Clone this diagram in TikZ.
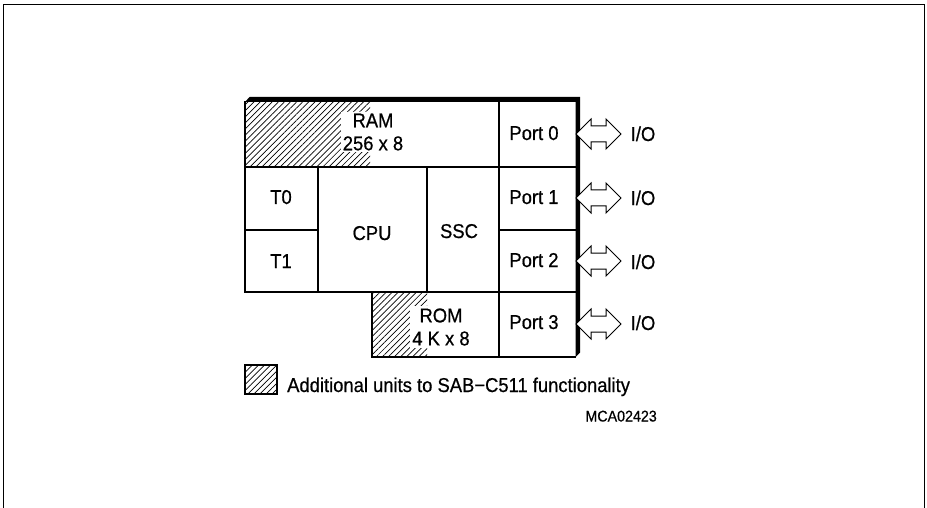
\documentclass[tikz,border=0pt]{standalone}
\usepackage{fontspec}
\setmainfont{Liberation Sans}[FakeStretch=0.92,FakeBold=0.6]
\usetikzlibrary{patterns.meta}
\tikzset{
  frame/.style={line width=1.5pt},
  grid/.style={line width=2.5pt},
  hatch/.style={pattern={Lines[angle=45,distance=4.3pt,line width=0.7pt]}},
  lbl/.style={inner sep=0pt, anchor=base, font=\fontsize{20}{23}\selectfont},
  memlbl/.style={fill=white, inner sep=2pt, align=center, font=\fontsize{20}{23}\selectfont},
  ioarrow/.pic={\draw[line width=1pt, fill=white] (0,0) -- (15,-15) -- (15,-8) -- (30,-8) -- (30,-15) -- (45,0) -- (30,15) -- (30,8) -- (15,8) -- (15,15) -- cycle;}
}
\begin{document}
\begin{tikzpicture}[x=1pt,y=-1pt]
\useasboundingbox (0,0) rectangle (927,508);
% outer frame
\draw[frame] (3.5,508) -- (3.5,4.5) -- (924.5,4.5) -- (924.5,508);
% hatched regions
\fill[hatch] (245,101) rectangle (370,167);
\fill[hatch] (372,292) rectangle (427,357);
% grid lines
\draw[grid] (245,101) -- (245,292) -- (372,292) -- (372,357) -- (576,357);
\draw[grid] (245,167) -- (576,167);
\draw[grid] (245,292) -- (576,292);
\draw[grid] (245,230) -- (318,230);
\draw[grid] (499,230) -- (576,230);
\draw[grid] (318,167) -- (318,292);
\draw[grid] (427,167) -- (427,292);
\draw[grid] (499,101) -- (499,357);
% thick shadow edge
\fill (245,102) -- (249.5,97) -- (580,97) -- (580,352.5) -- (575.5,357) -- (575.5,102) -- cycle;
% memory labels
\node[memlbl] (ram) at (373,132) {RAM\\256 x 8};
\node[memlbl] (rom) at (441,327) {ROM\\4 K x 8};
% unit labels
\node[lbl] (t0) at (281,204) {T0};
\node[lbl] (t1) at (281,268) {T1};
\node[lbl] (cpu) at (372,240) {CPU};
\node[lbl] (ssc) at (459,238) {SSC};
\node[lbl] (p0) at (534,140) {Port 0};
\node[lbl] (p1) at (534,204) {Port 1};
\node[lbl] (p2) at (534,267) {Port 2};
\node[lbl] (p3) at (534,329) {Port 3};
% I/O
\node[lbl] (io0) at (643,141) {I/O};
\node[lbl] (io1) at (643,205) {I/O};
\node[lbl] (io2) at (643,269) {I/O};
\node[lbl] (io3) at (643,330) {I/O};
\pic at (576,134) {ioarrow};
\pic at (576,198) {ioarrow};
\pic at (576,261) {ioarrow};
\pic at (576,324) {ioarrow};
% legend
\draw[hatch, line width=2pt] (245,365) rectangle (277,394);
\node[lbl, anchor=base west] (legend) at (287,392) {Additional units to SAB{\char"2212}C511 functionality};
\node[lbl, anchor=base east, font=\fontsize{15.5}{18}\selectfont] (id) at (657,421.5) {MCA02423};
\end{tikzpicture}
\end{document}
